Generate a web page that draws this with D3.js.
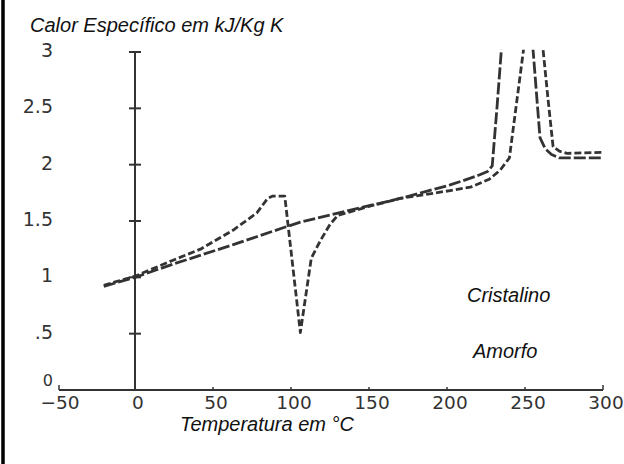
<!DOCTYPE html>
<html>
<head>
<meta charset="utf-8">
<script src="https://cdn.jsdelivr.net/npm/d3@7"></script>
<style>
  html, body { margin: 0; padding: 0; background: #fff; }
  svg { display: block; }
</style>
</head>
<body>
<svg id="chart" width="624" height="464"></svg>
<script>
// ---- data ----
const tempCristalino = [-20, 0, 25, 63, 95, 106, 130, 170, 202, 215, 221, 226, 229, 232, 235.3, 254.7, 259.6, 263, 267, 272, 300];
const cpCristalino   = [0.92, 1.0, 1.12, 1.29, 1.44, 1.49, 1.57, 1.70, 1.82, 1.88, 1.91, 1.94, 1.99, 2.5, 3.1, 3.1, 2.24, 2.14, 2.09, 2.06, 2.06];

const tempAmorfo = [-20, 0, 24, 42, 63, 78, 85, 88, 96, 106, 113, 119, 125, 130, 150, 170, 202, 215, 227, 234, 240, 249.8, 261, 265, 268, 272, 277, 300];
const cpAmorfo   = [0.93, 1.01, 1.15, 1.25, 1.42, 1.57, 1.70, 1.72, 1.72, 0.51, 1.17, 1.33, 1.47, 1.55, 1.63, 1.70, 1.77, 1.80, 1.87, 1.95, 2.06, 3.1, 3.1, 2.55, 2.16, 2.12, 2.10, 2.11];

const xTickValues = [-50, 0, 50, 100, 150, 200, 250, 300];
const xTickLabels = ["\u221250", "0", "50", "100", "150", "200", "250", "300"];
const yTickValues = [0, 0.5, 1, 1.5, 2, 2.5, 3];
const yTickLabels = ["0", ".5", "1", "1.5", "2", "2.5", "3"];

const titleY = "Calor Específico em kJ/Kg K";
const titleX = "Temperatura em \u00B0C";
const seriesLabels = ["Cristalino", "Amorfo"];

// ---- drawing ----
const svg = d3.select("#chart");
const ink = "#333";

const x = d3.scaleLinear().domain([-50, 300]).range([57, 603]);
const y = d3.scaleLinear().domain([0, 3]).range([390, 52]);

// clip: curves run off the top of the scale
svg.append("defs").append("clipPath").attr("id", "plotclip")
  .append("rect").attr("x", x(-50)).attr("y", y(3.02))
  .attr("width", x(300) - x(-50) + 10).attr("height", y(0) - y(3.02));

// left frame border
svg.append("line").attr("x1", 3).attr("x2", 3).attr("y1", 0).attr("y2", 464)
  .attr("stroke", "#000").attr("stroke-width", 3.5);

// x axis
const gx = svg.append("g");
gx.append("line").attr("x1", x(-50) + 2).attr("x2", x(300)).attr("y1", y(0)).attr("y2", y(0))
  .attr("stroke", ink).attr("stroke-width", 2);
gx.selectAll("line.tick").data(xTickValues.filter(v => v !== 0)).join("line")
  .attr("class", "tick")
  .attr("x1", d => x(d) + (d === -50 ? 2 : 0)).attr("x2", d => x(d) + (d === -50 ? 2 : 0))
  .attr("y1", y(0)).attr("y2", d => (d === -50 || d === 300) ? y(0) - 5 : y(0) - 3)
  .attr("stroke", ink).attr("stroke-width", 1.5);
gx.selectAll("text").data(xTickValues).join("text")
  .attr("x", d => x(d) + 3).attr("y", 409)
  .attr("text-anchor", "middle")
  .attr("font-family", "DejaVu Sans, sans-serif").attr("font-size", 18.5)
  .attr("fill", ink)
  .text((d, i) => xTickLabels[i]);

// y axis
const gy = svg.append("g");
gy.append("line").attr("x1", x(0)).attr("x2", x(0)).attr("y1", y(0)).attr("y2", y(3))
  .attr("stroke", ink).attr("stroke-width", 2);
gy.selectAll("line.tick").data(yTickValues.filter(v => v !== 0)).join("line")
  .attr("class", "tick")
  .attr("x1", x(0) - 6).attr("x2", x(0) + 6)
  .attr("y1", d => y(d)).attr("y2", d => y(d))
  .attr("stroke", ink).attr("stroke-width", 2);
gy.selectAll("text").data(yTickValues).join("text")
  .attr("x", 53).attr("y", d => d === 0 ? y(d) - 4 : y(d) + 5)
  .attr("text-anchor", "end")
  .attr("font-family", "DejaVu Sans, sans-serif").attr("font-size", d => d === 0 ? 16 : 19)
  .attr("fill", ink)
  .text((d, i) => yTickLabels[i]);

// curves
const line = d3.line().x(d => x(d[0])).y(d => y(d[1])).curve(d3.curveLinear);
const crist = tempCristalino.map((t, i) => [t, cpCristalino[i]]);
const amorf = tempAmorfo.map((t, i) => [t, cpAmorfo[i]]);

const gc = svg.append("g").attr("clip-path", "url(#plotclip)");
gc.append("path").datum(crist).attr("d", line)
  .attr("fill", "none").attr("stroke", ink).attr("stroke-width", 2.8)
  .attr("stroke-dasharray", "12,3").attr("stroke-linejoin", "round");
gc.append("path").datum(amorf).attr("d", line)
  .attr("fill", "none").attr("stroke", ink).attr("stroke-width", 2.8)
  .attr("stroke-dasharray", "7,3").attr("stroke-linejoin", "round");

// titles
const italic = sel => sel.attr("font-family", "Liberation Sans, Arial, sans-serif")
  .attr("font-style", "italic").attr("font-size", 20).attr("fill", "#111");
svg.append("text").attr("x", 30).attr("y", 32).call(italic).text(titleY);
svg.append("text").attr("x", 180).attr("y", 431).call(italic).text(titleX);
svg.append("text").attr("x", 467).attr("y", 302).call(italic).text(seriesLabels[0]);
svg.append("text").attr("x", 473).attr("y", 358).call(italic).text(seriesLabels[1]);
</script>
</body>
</html>
